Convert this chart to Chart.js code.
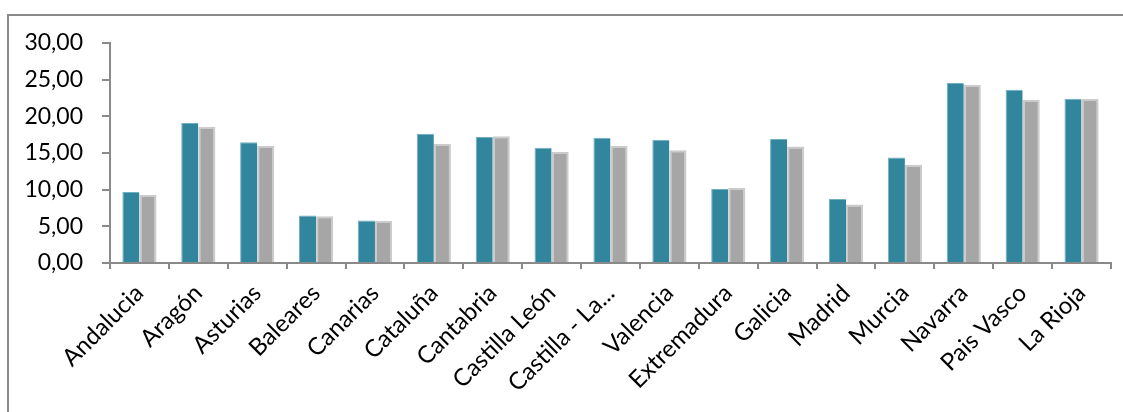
<!DOCTYPE html>
<html>
<head>
<meta charset="utf-8">
<script src="https://cdn.jsdelivr.net/npm/chart.js@4"></script>
<style>
    html, body { margin: 0; padding: 0; background: #fff; }
    body { width: 1123px; height: 412px; position: relative; overflow: hidden; }
    .frame {
        position: absolute; left: 7px; top: 14px; width: 1130px; height: 420px;
        border: 2px solid #8a8a8a; box-sizing: border-box;
    }
    #wrap { position: absolute; left: 0; top: 0; width: 1123px; height: 412px; }
</style>
</head>
<body>
<div class="frame"></div>
<div id="wrap"><canvas id="barChart"></canvas></div>
<script>
const regiones = [
    'Andalucia', 'Aragón', 'Asturias', 'Baleares', 'Canarias', 'Cataluña',
    'Cantabria', 'Castilla León', 'Castilla - La...', 'Valencia', 'Extremadura',
    'Galicia', 'Madrid', 'Murcia', 'Navarra', 'Pais Vasco', 'La Rioja'
];
const serieA = [9.68, 19.09, 16.45, 6.49, 5.81, 17.63, 17.18, 15.72, 17.09, 16.81, 10.09, 16.90, 8.73, 14.40, 24.55, 23.64, 22.40];
const serieB = [9.27, 18.55, 15.95, 6.36, 5.77, 16.23, 17.27, 15.14, 15.95, 15.36, 10.23, 15.90, 7.99, 13.40, 24.31, 22.27, 22.36];
const yTicks = [0, 5, 10, 15, 20, 25, 30];

const fuenteY = { family: 'Lato, "Open Sans", sans-serif', size: 23 };
const fuenteX = { family: 'Lato, "Open Sans", sans-serif', size: 24 };
const gris = '#8a8a8a';

const ctx = document.getElementById('barChart').getContext('2d');

new Chart(ctx, {
    type: 'bar',
    data: {
        labels: regiones,
        datasets: [{
            label: 'Serie 1',
            data: serieA,
            backgroundColor: '#31859c',
            borderColor: '#6fb0c2',
            borderWidth: { top: 1, left: 1, right: 0, bottom: 0 },
            categoryPercentage: 0.58,
            barPercentage: 1.0
        }, {
            label: 'Serie 2',
            data: serieB,
            backgroundColor: '#a6a6a6',
            borderColor: '#cbcbcb',
            borderWidth: { top: 2, left: 2, right: 2, bottom: 0 },
            categoryPercentage: 0.58,
            barPercentage: 1.0
        }]
    },
    options: {
        responsive: true,
        maintainAspectRatio: false,
        animation: false,
        layout: { padding: { top: 43, right: 12, left: 0, bottom: 0 } },
        plugins: {
            legend: { display: false },
            tooltip: { enabled: false }
        },
        scales: {
            x: {
                grid: {
                    display: true,
                    drawOnChartArea: false,
                    drawTicks: true,
                    tickLength: 6,
                    color: gris,
                    lineWidth: 2
                },
                border: { color: gris, width: 2 },
                ticks: {
                    color: '#000',
                    font: fuenteX,
                    maxRotation: 45,
                    minRotation: 45,
                    autoSkip: false,
                    padding: 10
                },
                afterFit: scale => { scale.height = 149; }
            },
            y: {
                min: 0,
                max: 30,
                afterBuildTicks: scale => {
                    scale.ticks = yTicks.map(v => ({ value: v }));
                },
                grid: {
                    display: true,
                    drawOnChartArea: false,
                    drawTicks: true,
                    tickLength: 8,
                    color: gris,
                    lineWidth: 2
                },
                border: { color: gris, width: 2 },
                ticks: {
                    color: '#000',
                    font: fuenteY,
                    padding: 19,
                    callback: v => v.toFixed(2).replace('.', ',')
                },
                afterFit: scale => { scale.width = 110; }
            }
        }
    }
});
</script>
</body>
</html>
